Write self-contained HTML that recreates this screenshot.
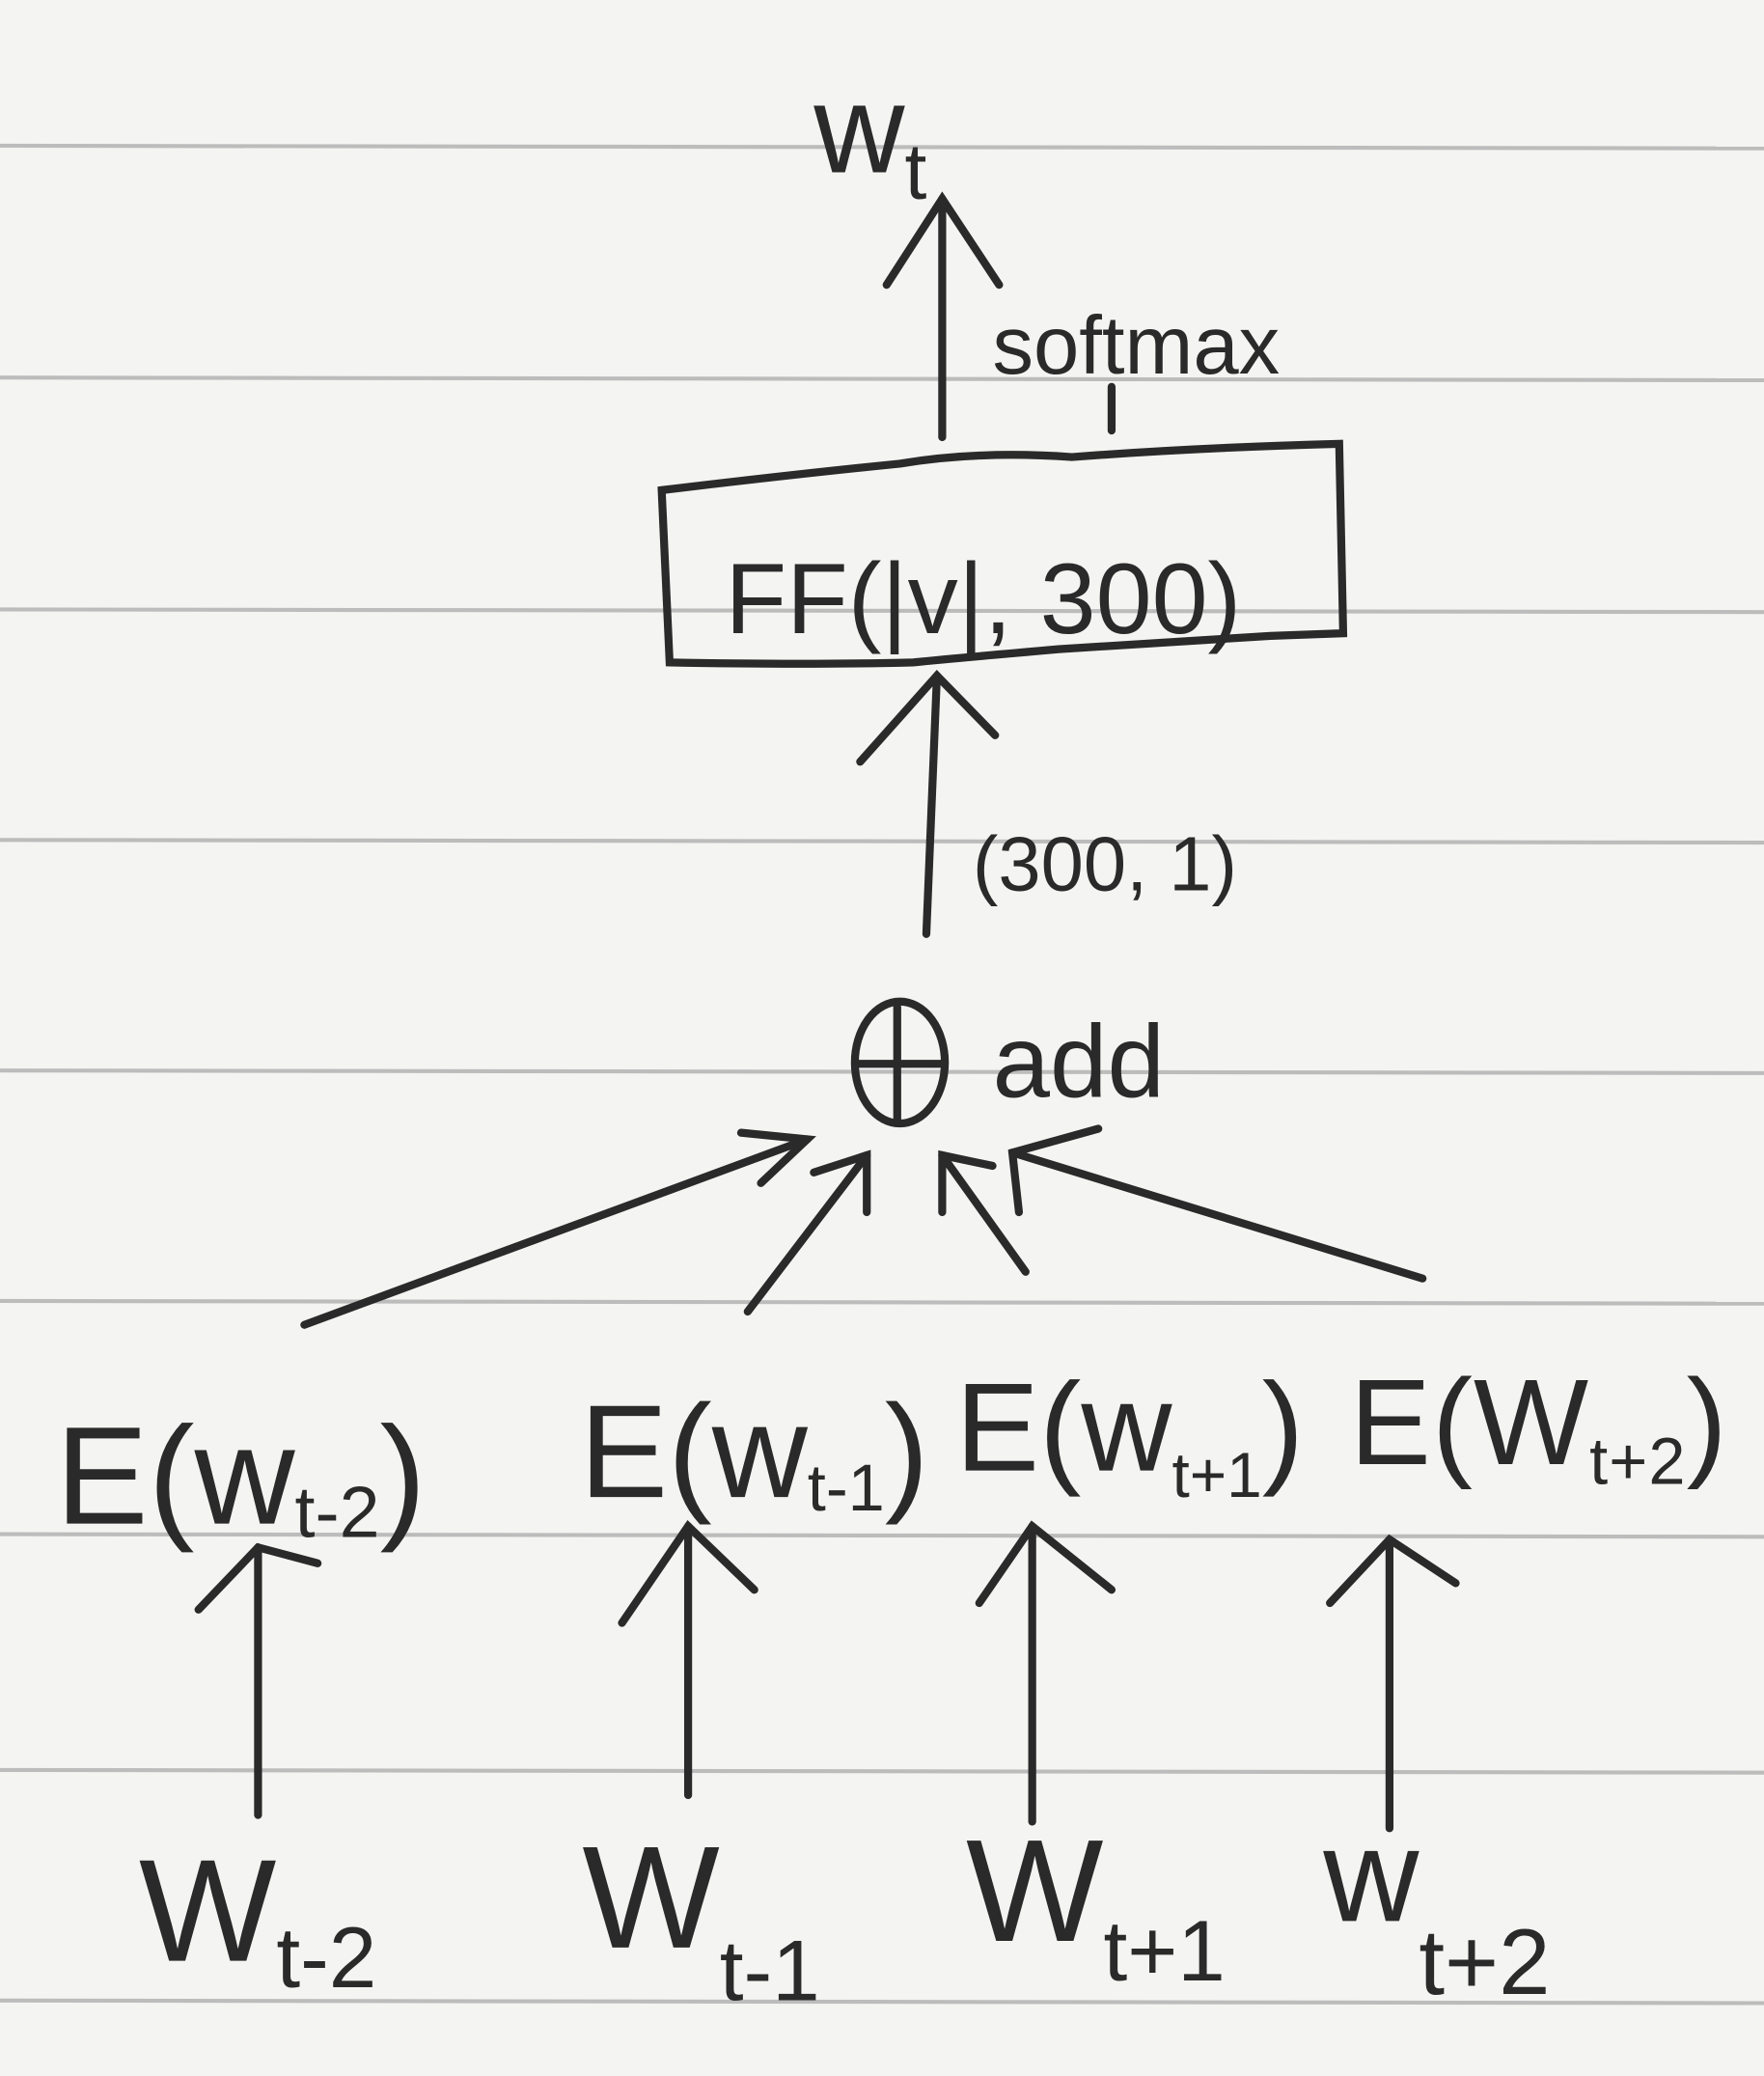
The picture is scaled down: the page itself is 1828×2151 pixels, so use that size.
<!DOCTYPE html>
<html><head><meta charset="utf-8"><style>
html,body{margin:0;padding:0;background:#f4f4f2;}
svg{display:block;}
text{font-family:"Liberation Sans",sans-serif;fill:#2a2a2a;}
</style></head><body>
<svg width="1828" height="2151" viewBox="0 0 1333 1567" preserveAspectRatio="none">
<rect width="1333" height="1567" fill="#f4f4f2"/>
<g stroke="#bcbcbc" stroke-width="3">
<line x1="0" y1="110" x2="1333" y2="112"/>
<line x1="0" y1="285" x2="1333" y2="287"/>
<line x1="0" y1="460" x2="1333" y2="462"/>
<line x1="0" y1="634" x2="1333" y2="636"/>
<line x1="0" y1="808" x2="1333" y2="810"/>
<line x1="0" y1="982" x2="1333" y2="984"/>
<line x1="0" y1="1158" x2="1333" y2="1160"/>
<line x1="0" y1="1336" x2="1333" y2="1338"/>
<line x1="0" y1="1510" x2="1333" y2="1512"/>
</g>
<g stroke="#2a2a2a" stroke-width="6" fill="none" stroke-linecap="round">
<g><line x1="712" y1="330" x2="712" y2="150"/><polyline points="670,215 712,150 755,215"/></g>
<line x1="840" y1="292" x2="840" y2="325"/>
<path d="M500 370 Q600 358 680 350 Q740 340 810 345 Q900 338 1012 335 L1015 478 L960 480 Q880 485 800 490 Q720 497 690 500 Q610 502 506 500 Z"/>
<g><line x1="700" y1="705" x2="708" y2="510"/><polyline points="650,575 708,510 752,555"/></g>
<g><ellipse cx="680" cy="802" rx="34" ry="46"/><line x1="678" y1="760" x2="678" y2="845"/><line x1="648" y1="803" x2="712" y2="803"/></g>
<g>
<line x1="230" y1="1000" x2="610" y2="860"/><polyline points="560,855 610,860 575,893"/>
<line x1="565" y1="990" x2="655" y2="872"/><polyline points="615,885 655,872 655,915"/>
<line x1="775" y1="960" x2="712" y2="872"/><polyline points="712,915 712,872 750,880"/>
<line x1="1075" y1="965" x2="765" y2="870"/><polyline points="770,915 765,870 830,852"/>
</g>
<g>
<line x1="195" y1="1370" x2="195" y2="1168"/><polyline points="150,1215 195,1168 240,1180"/>
<line x1="520" y1="1355" x2="520" y2="1152"/><polyline points="470,1225 520,1152 570,1200"/>
<line x1="780" y1="1375" x2="780" y2="1152"/><polyline points="740,1210 780,1152 840,1200"/>
<line x1="1050" y1="1380" x2="1050" y2="1162"/><polyline points="1005,1210 1050,1162 1100,1195"/>
</g>
</g>
<text x="615" y="130" font-size="95">w<tspan font-size="60" dy="20">t</tspan></text>
<text x="750" y="282" font-size="62">softmax</text>
<text x="548" y="478" font-size="76">FF(|v|, 300)</text>
<text x="735" y="672" font-size="58">(300, 1)</text>
<text x="750" y="828" font-size="78">add</text>
<text x="42" y="1150" font-size="105">E(w<tspan font-size="55" dy="10">t-2</tspan><tspan dy="-10">)</tspan></text>
<text x="438" y="1130" font-size="100">E(w<tspan font-size="50" dy="10">t-1</tspan><tspan dy="-10">)</tspan></text>
<text x="722" y="1110" font-size="95">E(w<tspan font-size="48" dy="20">t+1</tspan><tspan dy="-20">)</tspan></text>
<text x="1020" y="1105" font-size="92" textLength="285">E(W<tspan font-size="50" dy="15">t+2</tspan><tspan dy="-15">)</tspan></text>
<text x="105" y="1480" font-size="110">W<tspan font-size="65" dy="20">t-2</tspan></text>
<text x="440" y="1470" font-size="110">W<tspan font-size="65" dy="40">t-1</tspan></text>
<text x="730" y="1465" font-size="110">W<tspan font-size="65" dy="30">t+1</tspan></text>
<text x="1000" y="1450" font-size="100">w<tspan font-size="70" dy="55">t+2</tspan></text>
</svg>
</body></html>
